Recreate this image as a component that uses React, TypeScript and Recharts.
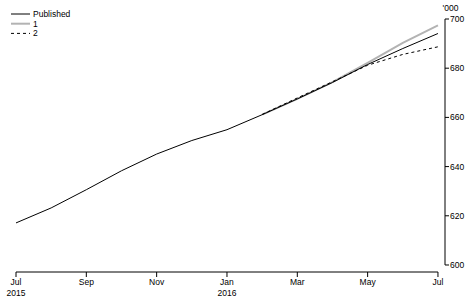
import React from "react";
import { LineChart, Line, XAxis, YAxis, Legend, ReferenceLine } from "recharts";

const monthIndex = [0, 1, 2, 3, 4, 5, 6, 7, 8, 9, 10, 11, 12];
const publishedValues = [617.1, 623.2, 630.6, 638.3, 645.1, 650.6, 655.0, 661.1, 667.5, 674.2, 681.5, 688.0, 694.1];
const series1Values: (number | null)[] = [null, null, null, null, null, null, null, 661.1, 667.5, 674.3, 682.2, 690.3, 697.4];
const series2Values: (number | null)[] = [null, null, null, null, null, null, null, 661.2, 667.9, 674.5, 681.2, 685.6, 688.7];

const xTickValues = [0, 2, 4, 6, 8, 10, 12];
const xTickMonths = ["Jul", "Sep", "Nov", "Jan", "Mar", "May", "Jul"];
const xTickYears = ["2015", "", "", "2016", "", "", ""];
const yTickValues = [600, 620, 640, 660, 680, 700];
const yUnitLabel = "'000";
const seriesNames = ["Published", "1", "2"];

const X_MIN = 0;
const X_MAX = 12;
const X_DOMAIN_MAX = 12.2;
const Y_MIN = 597.15;

const data = monthIndex.map((m, i) => ({
  m,
  published: publishedValues[i],
  s1: series1Values[i],
  s2: series2Values[i],
}));

const FONT = "'Liberation Sans', Arial, sans-serif";
const FS = 8.5;

const MonthTick = (props: any) => {
  const { x, y, payload } = props;
  const idx = xTickValues.indexOf(payload.value);
  const month = xTickMonths[idx] ?? "";
  const year = xTickYears[idx] ?? "";
  return (
    <text x={x} y={y} textAnchor="middle" fontFamily={FONT} fontSize={FS} fill="#000">
      <tspan x={x} dy="0.71em">{month}</tspan>
      {year ? <tspan x={x} dy="1.3em">{year}</tspan> : null}
    </text>
  );
};

const LegendContent = () => {
  const rows = [
    { name: seriesNames[0], stroke: "#000", width: 1, dash: undefined as string | undefined },
    { name: seriesNames[1], stroke: "#b3b3b3", width: 2, dash: undefined },
    { name: seriesNames[2], stroke: "#000", width: 1, dash: "3 3" },
  ];
  return (
    <svg width={100} height={42} style={{ display: "block" }}>
      {rows.map((r, i) => {
        const cy = 14 + i * 9.7;
        return (
          <g key={i}>
            <line x1={11} x2={30} y1={cy} y2={cy} stroke={r.stroke} strokeWidth={r.width} strokeDasharray={r.dash} />
            <text x={33} y={cy} dy="0.35em" fontFamily={FONT} fontSize={FS} fill="#000">{r.name}</text>
          </g>
        );
      })}
    </svg>
  );
};

export default function App() {
  return (
    <div style={{ position: "absolute", left: 0, top: 0, width: 472, height: 302, background: "#fff" }}>
      <LineChart width={472} height={302} data={data} margin={{ top: 19, right: 0, bottom: 0, left: 16 }}>
        <XAxis
          dataKey="m"
          type="number"
          domain={[X_MIN, X_DOMAIN_MAX]}
          ticks={xTickValues}
          tick={<MonthTick />}
          tickSize={5}
          tickMargin={2}
          height={30}
          axisLine={false}
          tickLine={{ stroke: "#000", strokeWidth: 1 }}
          interval={0}
          allowDataOverflow
        />
        <YAxis
          orientation="right"
          type="number"
          domain={[Y_MIN, 700]}
          ticks={yTickValues}
          width={27}
          tickSize={4}
          tickMargin={1}
          axisLine={false}
          tickLine={{ stroke: "#000", strokeWidth: 1 }}
          tick={{ fontFamily: FONT, fontSize: FS, fill: "#000", textAnchor: "start" }}
          interval={0}
          allowDataOverflow
          label={{ value: yUnitLabel, position: "top", offset: 8, fontFamily: FONT, fontSize: FS, fill: "#000", dx: -8 }}
        />
        <ReferenceLine
          segment={[{ x: X_MIN, y: Y_MIN }, { x: X_MAX, y: Y_MIN }]}
          stroke="#000"
          strokeWidth={1}
          ifOverflow="visible"
        />
        <ReferenceLine
          segment={[{ x: X_DOMAIN_MAX, y: 600 }, { x: X_DOMAIN_MAX, y: 700 }]}
          stroke="#000"
          strokeWidth={1}
          ifOverflow="visible"
        />
        <Legend
          layout="vertical"
          align="center"
          verticalAlign="middle"
          wrapperStyle={{ top: 0, left: 0, width: 100, height: 42 }}
          content={<LegendContent />}
        />
        <Line type="linear" dataKey="s1" stroke="#b3b3b3" strokeWidth={2} dot={false} isAnimationActive={false} connectNulls={false} />
        <Line type="linear" dataKey="published" stroke="#000" strokeWidth={1} dot={false} isAnimationActive={false} />
        <Line type="linear" dataKey="s2" stroke="#000" strokeWidth={1} strokeDasharray="3 3" dot={false} isAnimationActive={false} connectNulls={false} />
      </LineChart>
    </div>
  );
}
